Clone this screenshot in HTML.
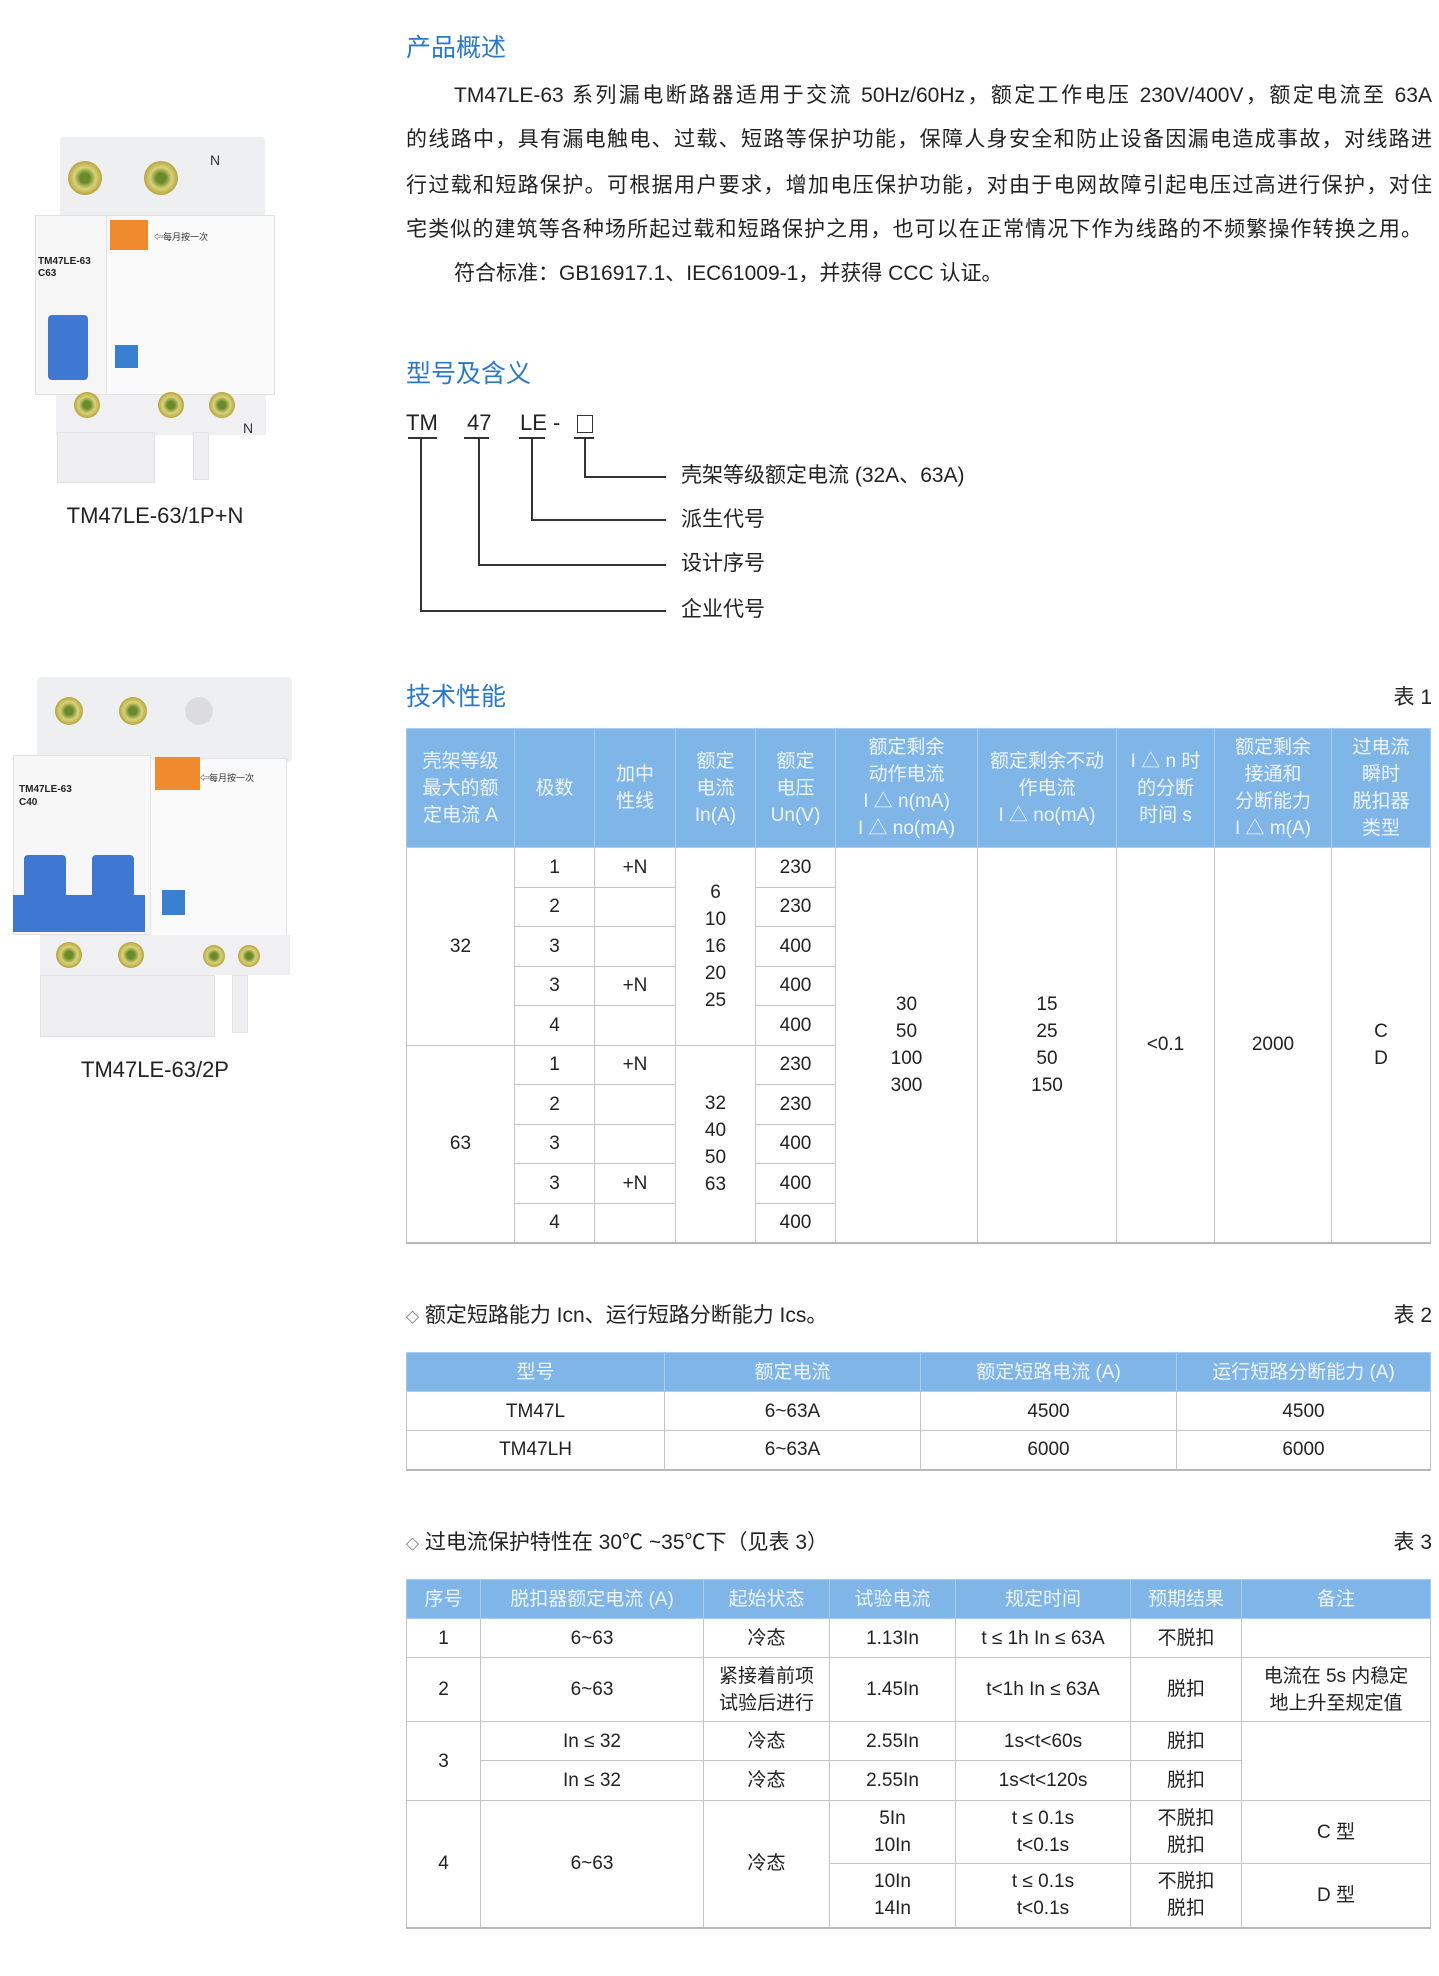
<!DOCTYPE html>
<html><head><meta charset="utf-8">
<style>
*{margin:0;padding:0;box-sizing:border-box}
body{width:1439px;height:1976px;background:#fff;position:relative;overflow:hidden;font-family:"Liberation Sans","Noto Sans CJK SC",sans-serif;color:#222}
.a{position:absolute;white-space:nowrap}
.h{color:#2a78c8;font-size:25px;line-height:30px}
.p{position:absolute;left:406px;width:1026px;font-size:21px;line-height:30px;text-align:justify;text-align-last:justify;white-space:nowrap}
.ln{position:absolute;background:#333}
table{position:absolute;border-collapse:collapse;table-layout:fixed;font-size:19px}
td,th{border:1px solid #c4c4c4;text-align:center;vertical-align:middle;line-height:27px;padding:0}
th{background:#7fb5e7;color:#eef5fc;font-weight:normal;border-color:#a8cdf1;font-size:19px;line-height:27px}
table{border-bottom:2px solid #b8b8b8}
.g{position:absolute}
.scr{position:absolute;border-radius:50%;background:radial-gradient(circle,#6b8a2a 20%,#d9d27a 45%,#b8a640 70%,#6e6a3a 100%)}
</style></head><body>

<!-- product image 1 -->
<div class="g" style="left:60px;top:137px;width:205px;height:90px;background:#eeeff1;border-radius:4px"></div>
<div class="scr" style="left:68px;top:161px;width:34px;height:34px"></div>
<div class="scr" style="left:144px;top:161px;width:34px;height:34px"></div>
<div class="a" style="left:210px;top:152px;font-size:14px;color:#333">N</div>
<div class="g" style="left:35px;top:215px;width:72px;height:180px;background:#f6f6f7;border:1px solid #e0e0e0"></div>
<div class="g" style="left:106px;top:215px;width:169px;height:180px;background:#fafafa;border:1px solid #e2e2e2"></div>
<div class="a" style="left:38px;top:256px;font-size:10px;font-weight:bold;color:#222">TM47LE-63</div>
<div class="a" style="left:38px;top:268px;font-size:10px;font-weight:bold;color:#222">C63</div>
<div class="g" style="left:48px;top:315px;width:40px;height:65px;background:#3f78d2;border-radius:4px"></div>
<div class="g" style="left:110px;top:220px;width:38px;height:30px;background:#f08a2e"></div>
<div class="a" style="left:154px;top:230px;font-size:9px;color:#333">⇦每月按一次</div>
<div class="g" style="left:115px;top:345px;width:23px;height:23px;background:#3a80d0"></div>
<div class="g" style="left:56px;top:395px;width:210px;height:40px;background:#f0f0f2"></div>
<div class="scr" style="left:74px;top:392px;width:26px;height:26px"></div>
<div class="scr" style="left:158px;top:392px;width:26px;height:26px"></div>
<div class="scr" style="left:209px;top:392px;width:26px;height:26px"></div>
<div class="a" style="left:243px;top:420px;font-size:14px;color:#333">N</div>
<div class="g" style="left:57px;top:432px;width:98px;height:51px;background:#efeff1;border:1px solid #e3e3e3"></div>
<div class="g" style="left:193px;top:432px;width:16px;height:48px;background:#efeff1;border:1px solid #e3e3e3"></div>
<div class="a" style="left:0;width:310px;text-align:center;top:502px;font-size:22px;line-height:28px">TM47LE-63/1P+N</div>

<!-- product image 2 -->
<div class="g" style="left:37px;top:677px;width:255px;height:85px;background:#eeeff1;border-radius:4px"></div>
<div class="scr" style="left:55px;top:697px;width:28px;height:28px"></div>
<div class="scr" style="left:119px;top:697px;width:28px;height:28px"></div>
<div class="g" style="left:185px;top:697px;width:28px;height:28px;border-radius:50%;background:#dcdcdf"></div>
<div class="g" style="left:13px;top:755px;width:138px;height:180px;background:#f7f7f8;border:1px solid #e0e0e0"></div>
<div class="g" style="left:150px;top:758px;width:137px;height:178px;background:#fafafa;border:1px solid #e2e2e2"></div>
<div class="a" style="left:19px;top:784px;font-size:10px;font-weight:bold;color:#222">TM47LE-63</div>
<div class="a" style="left:19px;top:797px;font-size:10px;font-weight:bold;color:#222">C40</div>
<div class="g" style="left:24px;top:855px;width:42px;height:60px;background:#3f78d2;border-radius:4px"></div>
<div class="g" style="left:92px;top:855px;width:42px;height:60px;background:#3f78d2;border-radius:4px"></div>
<div class="g" style="left:13px;top:895px;width:132px;height:37px;background:#3f78d2"></div>
<div class="g" style="left:155px;top:757px;width:45px;height:33px;background:#f08a2e"></div>
<div class="a" style="left:200px;top:771px;font-size:9px;color:#333">⇦每月按一次</div>
<div class="g" style="left:162px;top:890px;width:23px;height:25px;background:#3a80d0"></div>
<div class="g" style="left:40px;top:935px;width:250px;height:40px;background:#f0f0f2"></div>
<div class="scr" style="left:56px;top:942px;width:26px;height:26px"></div>
<div class="scr" style="left:118px;top:942px;width:26px;height:26px"></div>
<div class="scr" style="left:203px;top:945px;width:22px;height:22px"></div>
<div class="scr" style="left:238px;top:945px;width:22px;height:22px"></div>
<div class="g" style="left:40px;top:975px;width:175px;height:62px;background:#efeff1;border:1px solid #e3e3e3"></div>
<div class="g" style="left:232px;top:975px;width:16px;height:58px;background:#efeff1;border:1px solid #e3e3e3"></div>
<div class="a" style="left:0;width:310px;text-align:center;top:1056px;font-size:22px;line-height:28px">TM47LE-63/2P</div>

<!-- 产品概述 -->
<div class="a h" style="left:406px;top:33px">产品概述</div>
<div class="p" style="top:81px;left:454px;width:978px">TM47LE-63 系列漏电断路器适用于交流 50Hz/60Hz，额定工作电压 230V/400V，额定电流至 63A</div>
<div class="p" style="top:125px">的线路中，具有漏电触电、过载、短路等保护功能，保障人身安全和防止设备因漏电造成事故，对线路进</div>
<div class="p" style="top:171px">行过载和短路保护。可根据用户要求，增加电压保护功能，对由于电网故障引起电压过高进行保护，对住</div>
<div class="p" style="top:215px;width:1016px">宅类似的建筑等各种场所起过载和短路保护之用，也可以在正常情况下作为线路的不频繁操作转换之用。</div>
<div class="a" style="top:259px;left:454px;font-size:21px;line-height:30px">符合标准：GB16917.1、IEC61009-1，并获得 CCC 认证。</div>

<!-- 型号及含义 -->
<div class="a h" style="left:406px;top:359px">型号及含义</div>
<div class="a" style="left:406px;top:409px;font-size:22px;line-height:28px">TM</div>
<div class="a" style="left:467px;top:409px;font-size:22px;line-height:28px">47</div>
<div class="a" style="left:520px;top:409px;font-size:22px;line-height:28px">LE -</div>
<div class="g" style="left:577px;top:415px;width:16px;height:18px;border:1.5px solid #333"></div>
<div class="ln" style="left:408px;top:437px;width:29px;height:1.5px"></div>
<div class="ln" style="left:464px;top:437px;width:25px;height:1.5px"></div>
<div class="ln" style="left:519px;top:437px;width:26px;height:1.5px"></div>
<div class="ln" style="left:574px;top:437px;width:20px;height:1.5px"></div>
<div class="ln" style="left:420px;top:437px;width:1.5px;height:174px"></div>
<div class="ln" style="left:420px;top:610px;width:246px;height:1.5px"></div>
<div class="ln" style="left:478px;top:437px;width:1.5px;height:128px"></div>
<div class="ln" style="left:478px;top:564px;width:188px;height:1.5px"></div>
<div class="ln" style="left:531px;top:437px;width:1.5px;height:83px"></div>
<div class="ln" style="left:531px;top:519px;width:135px;height:1.5px"></div>
<div class="ln" style="left:584px;top:437px;width:1.5px;height:40px"></div>
<div class="ln" style="left:584px;top:476px;width:82px;height:1.5px"></div>
<div class="a" style="left:681px;top:462px;font-size:21px;line-height:28px">壳架等级额定电流 (32A、63A)</div>
<div class="a" style="left:681px;top:506px;font-size:21px;line-height:28px">派生代号</div>
<div class="a" style="left:681px;top:550px;font-size:21px;line-height:28px">设计序号</div>
<div class="a" style="left:681px;top:596px;font-size:21px;line-height:28px">企业代号</div>

<!-- 技术性能 -->
<div class="a h" style="left:406px;top:682px">技术性能</div>
<div class="a" style="right:7px;top:684px;font-size:21px;line-height:28px">表 1</div>
<table style="left:406px;top:728px;width:1024px">
<colgroup><col style="width:108px"><col style="width:80px"><col style="width:81px"><col style="width:80px"><col style="width:80px"><col style="width:142px"><col style="width:139px"><col style="width:98px"><col style="width:117px"><col style="width:99px"></colgroup>
<tr style="height:119px"><th>壳架等级<br>最大的额<br>定电流 A</th><th>极数</th><th>加中<br>性线</th><th>额定<br>电流<br>In(A)</th><th>额定<br>电压<br>Un(V)</th><th>额定剩余<br>动作电流<br>I △ n(mA)<br>I △ no(mA)</th><th>额定剩余不动<br>作电流<br>I △ no(mA)</th><th>I △ n 时<br>的分断<br>时间 s</th><th>额定剩余<br>接通和<br>分断能力<br>I △ m(A)</th><th>过电流<br>瞬时<br>脱扣器<br>类型</th></tr>
<tr style="height:39.5px"><td rowspan="5">32</td><td>1</td><td>+N</td><td rowspan="5">6<br>10<br>16<br>20<br>25</td><td>230</td><td rowspan="10">30<br>50<br>100<br>300</td><td rowspan="10">15<br>25<br>50<br>150</td><td rowspan="10">&lt;0.1</td><td rowspan="10">2000</td><td rowspan="10">C<br>D</td></tr>
<tr style="height:39.5px"><td>2</td><td></td><td>230</td></tr>
<tr style="height:39.5px"><td>3</td><td></td><td>400</td></tr>
<tr style="height:39.5px"><td>3</td><td>+N</td><td>400</td></tr>
<tr style="height:39.5px"><td>4</td><td></td><td>400</td></tr>
<tr style="height:39.5px"><td rowspan="5">63</td><td>1</td><td>+N</td><td rowspan="5">32<br>40<br>50<br>63</td><td>230</td></tr>
<tr style="height:39.5px"><td>2</td><td></td><td>230</td></tr>
<tr style="height:39.5px"><td>3</td><td></td><td>400</td></tr>
<tr style="height:39.5px"><td>3</td><td>+N</td><td>400</td></tr>
<tr style="height:39.5px"><td>4</td><td></td><td>400</td></tr>
</table>

<!-- 表2 -->
<div class="a" style="left:406px;top:1302px;font-size:21px;line-height:28px"><span style="font-size:13px">◇</span> 额定短路能力 Icn、运行短路分断能力 Ics。</div>
<div class="a" style="right:7px;top:1302px;font-size:21px;line-height:28px">表 2</div>
<table style="left:406px;top:1352px;width:1024px">
<colgroup><col style="width:258px"><col style="width:256px"><col style="width:256px"><col style="width:254px"></colgroup>
<tr style="height:39px"><th>型号</th><th>额定电流</th><th>额定短路电流 (A)</th><th>运行短路分断能力 (A)</th></tr>
<tr style="height:39px"><td>TM47L</td><td>6~63A</td><td>4500</td><td>4500</td></tr>
<tr style="height:39px"><td>TM47LH</td><td>6~63A</td><td>6000</td><td>6000</td></tr>
</table>

<!-- 表3 -->
<div class="a" style="left:406px;top:1529px;font-size:21px;line-height:28px"><span style="font-size:13px">◇</span> 过电流保护特性在 30℃ ~35℃下（见表 3）</div>
<div class="a" style="right:7px;top:1529px;font-size:21px;line-height:28px">表 3</div>
<table style="left:406px;top:1579px;width:1024px">
<colgroup><col style="width:74px"><col style="width:223px"><col style="width:126px"><col style="width:126px"><col style="width:175px"><col style="width:111px"><col style="width:189px"></colgroup>
<tr style="height:39px"><th>序号</th><th>脱扣器额定电流 (A)</th><th>起始状态</th><th>试验电流</th><th>规定时间</th><th>预期结果</th><th>备注</th></tr>
<tr style="height:39px"><td>1</td><td>6~63</td><td>冷态</td><td>1.13In</td><td>t ≤ 1h In ≤ 63A</td><td>不脱扣</td><td></td></tr>
<tr style="height:64px"><td>2</td><td>6~63</td><td>紧接着前项<br>试验后进行</td><td>1.45In</td><td>t&lt;1h In ≤ 63A</td><td>脱扣</td><td>电流在 5s 内稳定<br>地上升至规定值</td></tr>
<tr style="height:39px"><td rowspan="2">3</td><td>In ≤ 32</td><td>冷态</td><td>2.55In</td><td>1s&lt;t&lt;60s</td><td>脱扣</td><td rowspan="2"></td></tr>
<tr style="height:40px"><td>In ≤ 32</td><td>冷态</td><td>2.55In</td><td>1s&lt;t&lt;120s</td><td>脱扣</td></tr>
<tr style="height:63px"><td rowspan="2">4</td><td rowspan="2">6~63</td><td rowspan="2">冷态</td><td>5In<br>10In</td><td>t ≤ 0.1s<br>t&lt;0.1s</td><td>不脱扣<br>脱扣</td><td>C 型</td></tr>
<tr style="height:64px"><td>10In<br>14In</td><td>t ≤ 0.1s<br>t&lt;0.1s</td><td>不脱扣<br>脱扣</td><td>D 型</td></tr>
</table>
</body></html>
